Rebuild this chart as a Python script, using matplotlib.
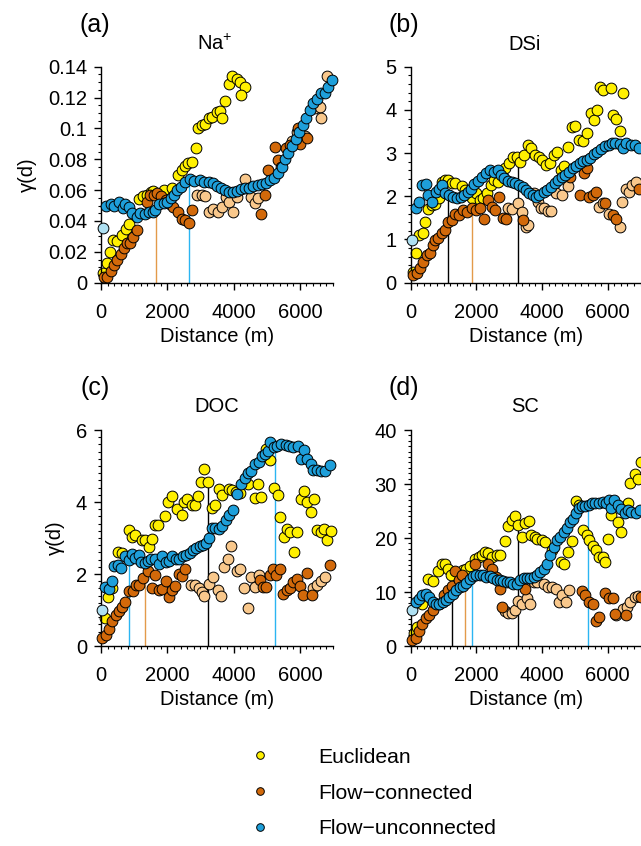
import matplotlib
matplotlib.use("Agg")
import matplotlib.pyplot as plt
from matplotlib.lines import Line2D
from matplotlib.ticker import MultipleLocator

plt.rcParams['font.family'] = ['Liberation Sans', 'DejaVu Sans']
plt.rcParams['mathtext.fontset'] = 'custom'
plt.rcParams['mathtext.rm'] = 'Liberation Sans'
plt.rcParams['mathtext.it'] = 'Liberation Sans:italic'

# ---------------- data: (distance m, semivariance) ----------------
# Panel (a) Na+
A_EUC = [(70,0.006),(171,0.013),(272,0.020),(372,0.0276),(473,0.027),(624,0.031),(755,0.035),(855,0.038),
         (1157,0.054),(1258,0.056),(1398,0.057),(1499,0.059),(1579,0.0596),(1911,0.060),(2153,0.0616),
         (2334,0.0698),(2435,0.073),(2535,0.0756),(2636,0.0773),(2736,0.0784),(2857,0.087),(2937,0.100),
         (3038,0.102),(3139,0.103),(3270,0.1065),(3360,0.1076),(3491,0.1108),(3591,0.1115),(3642,0.107),
         (3743,0.118),(3873,0.129),(3944,0.134),(4094,0.132),(4195,0.130),(4346,0.127),(4215,0.1216)]
A_FC = [(100,0.0035),(191,0.004),(292,0.0078),(392,0.0114),(493,0.0147),(594,0.0186),(694,0.0222),(775,0.0255),
        (875,0.0255),(976,0.0294),(1076,0.034),(1378,0.0525),(1479,0.057),(1600,0.057),(1700,0.058),(1811,0.056),
        (1962,0.0536),(2082,0.051),(2163,0.049),(2334,0.046),(2435,0.041),(2535,0.0406),(2656,0.039),(2736,0.047),
        (4817,0.0443),(4938,0.0568),(5040,0.073),(5243,0.0877),(5344,0.0795),(5445,0.0747),(5567,0.087),
        (5699,0.089),(5932,0.100),(6003,0.090),(6206,0.094)]
A_FC_LOW = [(2910,0.0568),(3042,0.0568),(3143,0.0562),(3245,0.046),(3387,0.0477),(3519,0.046),(3650,0.0492),
            (3772,0.0557),(3874,0.0525),(3975,0.0456),(4107,0.0553),(4330,0.067),(4462,0.0611),(4533,0.0557),
            (4634,0.0514),(4736,0.0546),(5770,0.092),(5901,0.0974),(6023,0.0935),(6155,0.095),(6459,0.113),
            (6611,0.114),(6632,0.107),(6814,0.134)]
A_FU = [(140,0.0499),(290,0.0510),(400,0.0497),(530,0.0525),(650,0.0486),(730,0.0510),(830,0.0492),(950,0.0449),
        (1090,0.0428),(1190,0.0454),(1340,0.0445),(1440,0.0460),(1560,0.0460),(1640,0.0471),(1740,0.0510),
        (1900,0.0514),(1980,0.0525),(2100,0.0546),(2200,0.0568),(2300,0.0600),(2400,0.0622),(2540,0.0654),
        (2690,0.0672),(2820,0.0659),(2980,0.0665),(3110,0.0654),(3250,0.0654),(3370,0.0644),(3490,0.0626),
        (3620,0.0611),(3750,0.0600),(3850,0.0590),(3980,0.0585),(4100,0.0596),(4230,0.0605),(4350,0.0616),
        (4480,0.0616),(4600,0.0626),(4740,0.0633),(4860,0.0637),(4990,0.0644),(5110,0.0665),(5220,0.0676),
        (5340,0.0708),(5450,0.0752),(5550,0.0799),(5650,0.0842),(5770,0.0886),(5880,0.0929),(5980,0.0978),
        (6080,0.1022),(6190,0.1069),(6310,0.1119),(6410,0.1162),(6510,0.1188),(6630,0.1231),(6760,0.1227),
        (6850,0.1270),(6970,0.1313)]
A_FU_LOW = [(50,0.0356)]
A_RANGE = [(1659,0.0438,'fc'),(2645,0.0648,'fu')]

# Panel (b) DSi
B_EUC = [(81,0.25),(163,0.68),(265,1.10),(367,1.14),(438,1.41),(540,1.70),(641,1.80),(743,1.82),(875,1.95),
         (947,2.34),(1049,2.38),(1150,2.38),(1252,2.31),(1354,2.30),(1557,2.24),(1659,2.15),(1761,2.03),
         (1863,1.95),(1995,2.07),(2097,1.91),(2199,1.95),(2321,2.07),(2443,2.26),(2545,2.38),(2647,2.34),
         (2779,2.53),(2881,2.65),(2983,2.76),(3115,2.92),(3237,2.92),(3339,2.80),(3441,2.96),(3563,3.19),
         (3665,3.11),(3777,2.96),(3899,2.92),(4001,2.84),(4133,2.72),(4255,2.76),(4357,2.96),(4459,3.03),
         (4581,2.61),(4662,2.69),(4784,3.15),(4917,3.61),(5019,3.63),(5121,3.30),(5243,3.28),(5375,3.46),
         (5477,3.92),(5579,3.77),(5680,4.00),(5762,4.52),(5864,4.46),(6088,4.50),(6169,3.88),(6240,3.78),
         (6372,3.50),(6474,4.38)]
B_FC = [(81,0.18),(183,0.22),(285,0.33),(387,0.49),(489,0.64),(590,0.69),(672,0.87),(743,0.99),(845,1.03),
        (947,1.14),(1049,1.23),(1150,1.41),(1252,1.45),(1354,1.60),(1486,1.57),(1608,1.68),(1730,1.64),
        (1863,1.72),(1995,1.68),(2117,1.72),(2239,1.47),(2352,1.91),(2474,1.76),(2576,1.68),(2677,1.99),
        (2800,1.49),(2901,1.47),(3430,1.45),(4845,2.45),(5161,2.04),(5273,2.55),(5375,2.65),(5446,1.99),
        (5548,2.03),(5650,2.10),(5904,1.84),(6159,1.57),(6260,1.47),(6953,2.16)]
B_FC_LOW = [(2952,1.72),(3074,1.70),(3258,1.85),(3380,1.64),(3512,1.30),(3583,1.33),(3746,2.07),(3868,1.87),
            (3970,1.74),(4072,1.72),(4174,1.67),(4276,1.67),(4428,2.07),(4611,2.03),(4785,2.24),(5731,1.76),
            (5850,1.85),(6037,1.60),(6362,1.30),(6444,1.87),(6545,2.18),(6647,2.10),(6749,2.26),(6850,2.34)]
B_FU = [(153,1.72),(255,1.875),(356,2.26),(458,2.28),(529,2.03),(662,1.875),(763,2.10),(865,2.18),(967,2.26),
        (1049,2.07),(1171,2.03),(1293,1.99),(1405,1.95),(1527,1.99),(1629,2.03),(1731,2.10),(1832,2.18),
        (1934,2.28),(2036,2.36),(2158,2.45),(2290,2.55),(2423,2.62),(2545,2.57),(2647,2.61),(2748,2.49),
        (2850,2.42),(2973,2.36),(3074,2.34),(3186,2.31),(3309,2.26),(3410,2.22),(3512,2.14),(3614,2.07),
        (3716,2.03),(3818,1.99),(3919,2.03),(4052,2.10),(4154,2.14),(4276,2.22),(4398,2.30),(4500,2.38),
        (4601,2.44),(4713,2.49),(4836,2.57),(4937,2.65),(5039,2.70),(5161,2.76),(5263,2.82),(5365,2.85),
        (5467,2.88),(5579,2.97),(5680,3.03),(5803,3.09),(5904,3.16),(6026,3.19),(6128,3.23),(6230,3.24),
        (6362,3.21),(6464,3.11),(6566,3.23),(6698,3.19),(6820,3.19),(6953,3.11)]
B_FU_LOW = [(51,0.99)]
B_RANGE = [(1150,2.03,'euc'),(1863,1.64,'fc'),(3258,2.84,'euc')]

# Panel (c) DOC
C_EUC = [(122,0.78),(223,1.36),(324,1.61),(527,2.61),(629,2.58),(831,3.23),(933,3.03),(1034,3.08),(1237,2.94),
         (1338,2.94),(1440,2.75),(1541,2.96),(1622,3.37),(1724,3.37),(1927,3.60),(2028,4.00),(2129,4.17),
         (2302,3.81),(2434,3.65),(2505,4.00),(2606,4.07),(2738,3.93),(2839,3.91),(2941,4.16),(3012,4.56),
         (3113,4.91),(3214,4.56),(3346,3.83),(3448,3.93),(3549,4.37),(3650,4.20),(3853,4.37),(3955,4.32),
         (4077,4.28),(4198,4.26),(4431,4.51),(4634,4.11),(4736,4.51),(4837,4.14),(4969,5.48),(5111,5.16),
         (5222,4.39),(5344,4.20),(5395,3.58),(5527,3.03),(5618,3.26),(5699,3.17),(5820,2.61),(5921,3.17),
         (6023,4.09),(6124,4.30),(6205,3.99),(6337,3.72),(6428,4.07),(6510,3.21),(6632,3.17),(6733,3.24),
         (6814,2.94),(6936,3.19)]
C_FC = [(41,0.22),(142,0.31),(243,0.48),(345,0.69),(446,0.85),(547,0.96),(629,1.08),(730,1.22),(831,1.52),
        (953,1.52),(1054,1.69),(1156,1.70),(1258,1.89),(1420,2.08),(1541,1.61),(1643,1.96),(1744,1.55),
        (1846,1.59),(1947,1.80),(2048,1.36),(2150,1.55),(2231,1.67),(2353,2.00),(2434,1.94),(2535,2.15),
        (4786,1.82),(4888,1.64),(4989,1.64),(5090,1.96),(5192,2.15),(5293,1.98),(5395,2.13),(5496,1.45),
        (5597,1.55),(5699,1.61),(5800,1.78),(5901,1.87),(6003,1.67),(6104,1.41),(6205,2.04),(6357,1.43),
        (6915,2.24)]
C_FC_LOW = [(2708,1.70),(2839,1.69),(2961,1.62),(3042,1.50),(3113,1.39),(3265,1.71),(3366,1.92),(3518,1.55),
            (3620,1.39),(3721,2.19),(3823,2.43),(3924,2.78),(4097,2.07),(4198,2.15),(4300,1.61),(4431,1.06),
            (4533,1.92),(4634,1.64),(4766,1.96),(6408,1.61),(6510,1.69),(6632,1.80),(6764,1.92)]
C_FU = [(122,1.64),(243,1.59),(324,1.80),(406,2.22),(507,2.24),(608,2.17),(730,2.50),(831,2.38),(933,2.56),
        (1034,2.44),(1136,2.54),(1217,2.33),(1318,2.31),(1420,2.35),(1521,2.43),(1643,2.43),(1744,2.29),
        (1846,2.50),(1947,2.33),(2048,2.35),(2150,2.50),(2251,2.43),(2353,2.41),(2474,2.49),(2576,2.54),
        (2677,2.59),(2778,2.68),(2880,2.72),(2981,2.78),(3083,2.81),(3164,2.87),(3265,3.00),(3346,3.28),
        (3448,3.28),(3549,3.26),(3650,3.33),(3772,3.49),(3873,3.63),(3975,3.77),(4107,4.23),(4228,4.51),
        (4330,4.67),(4431,4.81),(4533,4.85),(4634,5.06),(4756,5.11),(4857,5.27),(4938,5.34),(5040,5.41),
        (5111,5.67),(5222,5.53),(5324,5.56),(5445,5.62),(5567,5.57),(5668,5.56),(5800,5.53),(5932,5.56),
        (6023,5.20),(6124,5.44),(6226,5.19),(6327,5.06),(6408,4.88),(6510,4.88),(6632,4.85),(6764,4.85),
        (6915,5.02)]
C_FU_LOW = [(41,0.99)]
C_RANGE = [(831,2.35,'fu'),(1338,2.06,'fc'),(3235,4.46,'euc'),(5242,5.48,'fu')]

# Panel (d) SC
D_EUC = [(103,2.5),(185,3.5),(359,7.7),(534,12.5),(667,12.0),(821,13.8),(944,15.1),(1046,15.2),(1129,14.3),
         (1231,13.2),(1590,14.0),(1693,14.3),(1795,14.8),(1949,16.2),(2072,16.5),(2175,16.9),(2257,17.5),
         (2360,17.3),(2483,16.5),(2616,16.8),(2719,16.9),(2873,19.4),(2976,22.2),(3078,23.3),(3180,24.1),
         (3283,22.5),(3386,20.2),(3488,22.7),(3591,23.1),(3673,20.5),(3796,20.2),(3847,19.9),(4001,19.6),
         (4104,19.3),(4289,17.7),(4565,15.6),(4668,15.2),(4801,17.4),(4904,19.4),(5027,26.8),(5130,26.2),
         (5253,21.4),(5356,20.5),(5438,19.6),(5540,18.6),(5643,17.7),(5745,16.5),(5848,16.5),(5930,15.6),
         (6002,19.8),(6105,24.2),(6310,23.0),(6412,21.2),(6617,26.5),(6689,30.1),(6823,31.9),(6925,31.0),
         (7028,34.0)]
D_FC = [(51,1.05),(154,1.4),(257,2.7),(359,4.1),(462,5.1),(564,5.8),(667,6.6),(872,7.7),(1006,9.4),(1129,10.3),
        (1252,11.2),(1354,13.8),(1457,12.2),(1559,13.1),(1970,15.2),(2360,15.1),(2483,14.3),(2586,12.8),
        (2719,10.6),(2790,7.2),(3488,10.6),(5212,10.1),(5315,9.4),(5417,8.2),(5540,7.8),(5643,4.6),(5745,5.4),
        (5930,9.9),(6033,8.8),(6156,8.8),(6238,6.0),(6566,5.8),(7028,9.1)]
D_FC_LOW = [(2873,6.4),(2976,6.2),(3078,6.2),(3180,6.6),(3283,8.3),(3386,7.7),(3539,8.9),(3642,7.8),(3745,11.9),
            (3847,11.9),(4052,11.4),(4186,10.9),(4309,10.9),(4412,10.5),(4514,8.2),(4617,9.4),(4719,8.2),
            (4822,10.3),(6258,5.7),(6463,6.8),(6586,7.2),(6689,8.2),(6823,9.1),(6925,9.3)]
D_FU = [(154,8.15),(257,8.77),(359,9.38),(462,9.69),(564,9.07),(667,8.15),(770,7.84),(872,7.84),(975,8.15),
        (1077,8.46),(1180,9.07),(1282,9.69),(1385,10.3),(1488,10.9),(1590,11.2),(1693,11.7),(1795,12.5),
        (1898,13.0),(2001,13.2),(2103,13.1),(2206,13.2),(2308,12.8),(2411,13.0),(2514,12.6),(2616,12.3),
        (2719,12.2),(2821,12.0),(2924,11.9),(3026,11.9),(3129,11.5),(3232,11.4),(3334,12.2),(3437,12.6),
        (3539,12.6),(3642,12.6),(3745,12.8),(3847,13.2),(3950,13.7),(4052,14.3),(4155,15.2),(4237,16.8),
        (4360,18.3),(4463,19.6),(4545,20.2),(4668,21.1),(4770,21.9),(4853,23.0),(4945,23.6),(5027,24.7),
        (5130,25.6),(5212,25.9),(5315,26.0),(5417,26.2),(5520,26.4),(5622,26.5),(5745,26.4),(5848,26.7),
        (5951,26.5),(6033,27.0),(6105,25.6),(6207,27.0),(6310,26.2),(6412,25.3),(6515,24.7),(6617,25.1),
        (6720,24.8),(6853,24.7),(6977,25.1)]
D_FU_LOW = [(51,6.6)]
D_RANGE = [(1262,9.7,'euc'),(1662,12.8,'fc'),(1867,13.0,'fu'),(3283,22.0,'euc'),(5407,25.7,'fu')]

TITLES = ['Na$^{+}$', 'DSi', 'DOC', 'SC']
LETTERS = ['(a)', '(b)', '(c)', '(d)']
Y_TICKS = [[0, 0.02, 0.04, 0.06, 0.08, 0.1, 0.12, 0.14], [0, 1, 2, 3, 4, 5], [0, 2, 4, 6], [0, 10, 20, 30, 40]]
Y_TICKLABELS = [['0', '0.02', '0.04', '0.06', '0.08', '0.1', '0.12', '0.14'],
                ['0', '1', '2', '3', '4', '5'], ['0', '2', '4', '6'], ['0', '10', '20', '30', '40']]
X_TICKS = [0, 2000, 4000, 6000]
LEGEND_LABELS = ['Euclidean', 'Flow\u2212connected', 'Flow\u2212unconnected']

# ---------------- style ----------------
C_EUCL = '#FFF000'
C_FCD = '#D2690A'
C_FCL = '#F9C88C'
C_FUD = '#1E9FDA'
C_FUL = '#AEE0F2'
LINE_COL = {'euc': 'black', 'fc': '#E39A4A', 'fu': '#2BB5F2'}
Y_MINOR = [0.005, 0.2, 0.2, 1]

W, H = 641, 846
fig = plt.figure(figsize=(W / 100, H / 100), dpi=100)


def rect(x0, x1, ytop, ybot):
    return [x0 / W, 1 - ybot / H, (x1 - x0) / W, (ybot - ytop) / H]


RECTS = [rect(101, 333, 66.7, 282.7), rect(410.7, 640.5, 66.7, 282.7),
         rect(101, 333, 430, 646), rect(410.7, 640.5, 430, 646)]
LETTER_POS = [(95, 25), (404, 25), (95, 388), (404, 388)]
TITLE_POS = [(215, 44), (525, 44), (217, 406), (525, 406)]

PANELS = [
    (A_EUC, A_FC, A_FC_LOW, A_FU, A_FU_LOW, A_RANGE),
    (B_EUC, B_FC, B_FC_LOW, B_FU, B_FU_LOW, B_RANGE),
    (C_EUC, C_FC, C_FC_LOW, C_FU, C_FU_LOW, C_RANGE),
    (D_EUC, D_FC, D_FC_LOW, D_FU, D_FU_LOW, D_RANGE),
]

FS = 14.5
S = 60
EW = 0.7

for i, (euc, fc, fcl, fu, ful, rng) in enumerate(PANELS):
    ax = fig.add_axes(RECTS[i])
    ax.set_xlim(0, 7000)
    ax.set_ylim(0, Y_TICKS[i][-1])
    for x, top, kind in rng:
        ax.plot([x, x], [0, top], color=LINE_COL[kind], lw=1.0, zorder=1, solid_capstyle='butt')

    def sc(pts, col, z):
        xs = [p[0] for p in pts]
        ys = [p[1] for p in pts]
        ax.scatter(xs, ys, s=S, facecolor=col, edgecolor='black', linewidths=EW, zorder=z, clip_on=False)

    sc(euc, C_EUCL, 2)
    sc(fcl, C_FCL, 3)
    sc(fc, C_FCD, 3)
    sc(ful, C_FUL, 4)
    sc(fu, C_FUD, 4)

    for sp in ['top', 'right']:
        ax.spines[sp].set_visible(False)
    for sp in ['left', 'bottom']:
        ax.spines[sp].set_linewidth(1.0)
    ax.set_xticks(X_TICKS)
    ax.set_xticklabels([str(t) for t in X_TICKS])
    ax.xaxis.set_minor_locator(MultipleLocator(200))
    ax.set_yticks(Y_TICKS[i])
    ax.set_yticklabels(Y_TICKLABELS[i])
    ax.yaxis.set_minor_locator(MultipleLocator(Y_MINOR[i]))
    ax.tick_params(which='major', length=5, width=1.0, labelsize=FS, direction='out')
    ax.tick_params(which='minor', length=2.5, width=0.8, direction='out')
    ax.tick_params(axis='x', which='major', pad=9.5)
    ax.tick_params(axis='y', which='major', pad=5)
    ax.set_xlabel('Distance (m)', fontsize=FS, labelpad=3.5)
    if i % 2 == 0:
        ax.set_ylabel('\u03b3(d)', fontsize=FS, labelpad=8)
    ax.patch.set_alpha(0)
    fig.text(TITLE_POS[i][0] / W, 1 - TITLE_POS[i][1] / H, TITLES[i], fontsize=FS,
             ha='center', va='center')
    fig.text(LETTER_POS[i][0] / W, 1 - LETTER_POS[i][1] / H, LETTERS[i], fontsize=18,
             ha='center', va='center')

handles = [Line2D([], [], ls='none', marker='o', markersize=5.5, markerfacecolor=c,
                  markeredgecolor='black', markeredgewidth=0.7) for c in (C_EUCL, C_FCD, C_FUD)]
fig.legend(handles, LEGEND_LABELS, loc='center left', bbox_to_anchor=(249 / W, 1 - 793 / H),
           frameon=False, fontsize=15.2, handlelength=1.0, handletextpad=2.3,
           labelspacing=0.8, borderpad=0, borderaxespad=0)

fig.savefig('out.png', dpi=100)
